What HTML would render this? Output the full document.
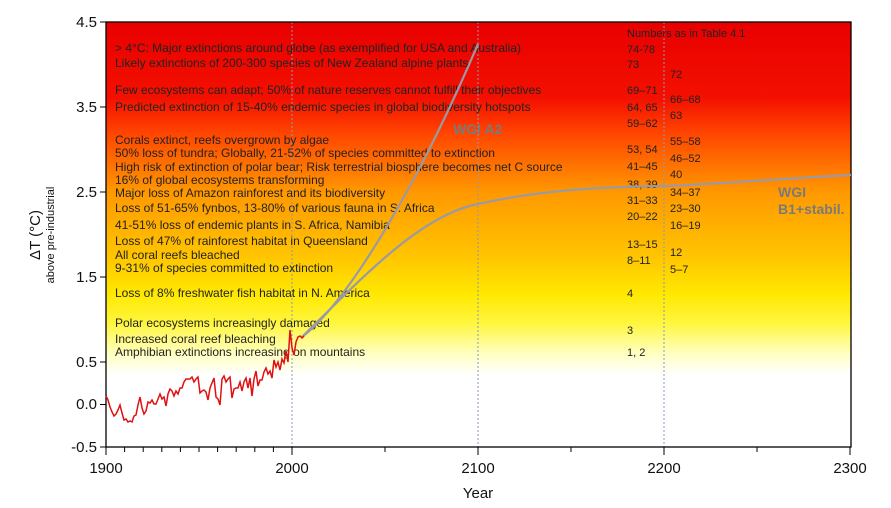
<!DOCTYPE html>
<html><head><meta charset="utf-8"><style>
body{margin:0;background:#fff}
svg text{font-family:"Liberation Sans",Arial,sans-serif}
</style></head><body>
<svg width="891" height="503" xmlns="http://www.w3.org/2000/svg">
<defs><linearGradient id="g" x1="0" y1="0" x2="0" y2="1">
<stop offset="0" stop-color="#e80000"/>
<stop offset="0.18" stop-color="#f41000"/>
<stop offset="0.26" stop-color="#ff4400"/>
<stop offset="0.40" stop-color="#ff9800"/>
<stop offset="0.55" stop-color="#ffc400"/>
<stop offset="0.64" stop-color="#ffe800"/>
<stop offset="0.71" stop-color="#fff640"/>
<stop offset="0.78" stop-color="#ffffc0"/>
<stop offset="0.83" stop-color="#ffffff"/>
<stop offset="1" stop-color="#ffffff"/>
</linearGradient></defs>
<rect x="106" y="22" width="745" height="425" fill="url(#g)"/>
<g stroke="#8899bb" stroke-width="1" stroke-dasharray="2,2">
<line x1="292" y1="22" x2="292" y2="447"/><line x1="478" y1="22" x2="478" y2="447"/><line x1="664" y1="22" x2="664" y2="447"/></g>
<rect x="106" y="22" width="745" height="425" fill="none" stroke="#000" stroke-width="1.3"/>
<g stroke="#000" stroke-width="1">
<line x1="100" y1="22" x2="106" y2="22"/><line x1="100" y1="107" x2="106" y2="107"/><line x1="100" y1="192" x2="106" y2="192"/><line x1="100" y1="277" x2="106" y2="277"/><line x1="100" y1="362" x2="106" y2="362"/><line x1="100" y1="404.5" x2="106" y2="404.5"/><line x1="100" y1="447" x2="106" y2="447"/>
<line x1="106" y1="447" x2="106" y2="455"/><line x1="124.6" y1="447" x2="124.6" y2="452"/><line x1="143.2" y1="447" x2="143.2" y2="452"/><line x1="161.8" y1="447" x2="161.8" y2="452"/><line x1="180.4" y1="447" x2="180.4" y2="452"/><line x1="199" y1="447" x2="199" y2="452"/><line x1="217.6" y1="447" x2="217.6" y2="452"/><line x1="236.2" y1="447" x2="236.2" y2="452"/><line x1="254.8" y1="447" x2="254.8" y2="452"/><line x1="273.4" y1="447" x2="273.4" y2="452"/><line x1="292" y1="447" x2="292" y2="455"/><line x1="385" y1="447" x2="385" y2="452"/><line x1="478" y1="447" x2="478" y2="455"/><line x1="571" y1="447" x2="571" y2="452"/><line x1="664" y1="447" x2="664" y2="455"/><line x1="757" y1="447" x2="757" y2="452"/><line x1="850" y1="447" x2="850" y2="455"/>
</g>
<g font-size="15" fill="#111" text-anchor="end">
<text x="97" y="27">4.5</text><text x="97" y="112">3.5</text><text x="97" y="197">2.5</text><text x="97" y="282">1.5</text><text x="97" y="367">0.5</text><text x="97" y="409">0.0</text><text x="97" y="452">-0.5</text></g>
<g font-size="15" fill="#111" text-anchor="middle">
<text x="106" y="473">1900</text><text x="292" y="473">2000</text><text x="478" y="473">2100</text><text x="664" y="473">2200</text><text x="850" y="473">2300</text>
<text x="478" y="498">Year</text></g>
<text transform="translate(40,235) rotate(-90)" font-size="15" text-anchor="middle" fill="#111">ΔT (°C)</text>
<text transform="translate(54,235) rotate(-90)" font-size="11" text-anchor="middle" fill="#111">above pre-industrial</text>
<g font-size="12" fill="#222">
<text x="115" y="52">&gt; 4°C: Major extinctions around globe (as exemplified for USA and Australia)</text>
<text x="115" y="67">Likely extinctions of 200-300 species of New Zealand alpine plants</text>
<text x="115" y="94">Few ecosystems can adapt;  50% of nature reserves cannot fulfill their objectives</text>
<text x="115" y="111">Predicted extinction of 15-40% endemic species in global biodiversity hotspots</text>
<text x="115" y="144">Corals extinct, reefs overgrown by algae</text>
<text x="115" y="157">50% loss of tundra;  Globally, 21-52% of species committed to extinction</text>
<text x="115" y="171">High risk of extinction of polar bear;  Risk terrestrial biosphere becomes net C source</text>
<text x="115" y="184">16% of global ecosystems transforming</text>
<text x="115" y="197">Major loss of Amazon rainforest and its biodiversity</text>
<text x="115" y="212">Loss of 51-65% fynbos, 13-80% of various fauna in S. Africa</text>
<text x="115" y="229">41-51% loss of endemic plants in S. Africa, Namibia</text>
<text x="115" y="245">Loss of 47% of rainforest habitat in Queensland</text>
<text x="115" y="259">All coral reefs bleached</text>
<text x="115" y="272">9-31% of species committed to extinction</text>
<text x="115" y="297">Loss of 8% freshwater fish habitat in N. America</text>
<text x="115" y="327">Polar ecosystems increasingly damaged</text>
<text x="115" y="343">Increased coral reef bleaching</text>
<text x="115" y="356">Amphibian extinctions increasing on mountains</text>
</g>
<g font-size="11" fill="#222">
<text x="627" y="37">Numbers as in Table 4.1</text>
<text x="627" y="53">74-78</text><text x="627" y="68">73</text><text x="670" y="78">72</text>
<text x="627" y="94">69–71</text><text x="670" y="103">66–68</text><text x="627" y="111">64, 65</text><text x="670" y="119">63</text><text x="627" y="127">59–62</text>
<text x="670" y="145">55–58</text><text x="627" y="153">53, 54</text><text x="670" y="162">46–52</text><text x="627" y="170">41–45</text><text x="670" y="178">40</text>
<text x="627" y="188">38, 39</text><text x="670" y="196">34–37</text><text x="627" y="204">31–33</text><text x="670" y="212">23–30</text><text x="627" y="220">20–22</text><text x="670" y="229">16–19</text>
<text x="627" y="248">13–15</text><text x="670" y="256">12</text><text x="627" y="264">8–11</text><text x="670" y="273">5–7</text>
<text x="627" y="297">4</text><text x="627" y="334">3</text><text x="627" y="356">1, 2</text>
</g>
<g fill="none" stroke="#9a9aa6" stroke-width="2.2">
<path d="M302,337 C350,300 420,180 478,44"/>
<path d="M302,337 C360,280 420,215 478,204 C540,190 600,187 664,186 C720,184 790,178 851,175"/>
</g>
<g font-size="14" font-weight="bold" fill="#7a7a7a">
<text x="453" y="134">WGI A2</text>
<text x="778" y="197">WGI</text><text x="778" y="214">B1+stabil.</text></g>
<polyline fill="none" stroke="#e01010" stroke-width="1.5" points="106,396 108,400 110,407 112,412 114,416 116,414 118,410 120,405 122,413 124,420 126,419 128,422 130,421 132,422 134,416 136,415 138,405 140,397 142,408 144,414 146,411 148,402 150,403 152,400 154,404 156,404 158,399 160,394 162,399 164,397 166,406 168,394 170,389 172,391 174,396 176,391 178,394 180,388 182,388 184,382 186,379 188,379 190,379 192,377 194,382 196,379 198,377 200,393 202,391 204,390 206,392 208,400 210,388 212,383 214,378 216,397 218,399 220,405 222,379 224,376 226,382 228,379 230,377 232,398 234,389 236,388 238,388 240,382 242,391 244,382 246,378 248,388 250,378 252,396 254,379 256,371 258,386 260,380 262,380 264,372 266,368 268,374 270,371 272,378 274,360 276,367 278,362 280,370 282,359 284,363 286,351 288,362 290,330 292,348 294,355 296,342 298,337 300,336 302,338 304,336"/>
</svg>
</body></html>
